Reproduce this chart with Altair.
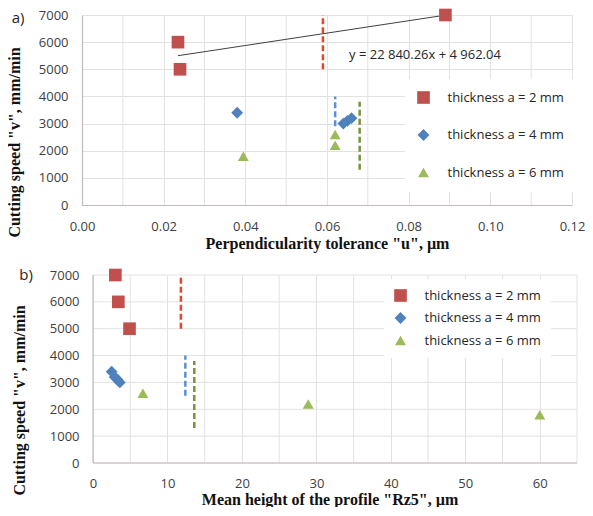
import altair as alt
import pandas as pd

# ---------------- data ----------------
series = ["thickness a = 2 mm", "thickness a = 4 mm", "thickness a = 6 mm"]

# panel a) perpendicularity tolerance "u" (µm) vs cutting speed "v" (mm/min)
a_u_2mm = [0.0235, 0.024, 0.089]
a_v_2mm = [6000, 5000, 7000]
a_u_4mm = [0.038, 0.066, 0.065, 0.064]
a_v_4mm = [3400, 3200, 3100, 3000]
a_u_6mm = [0.0395, 0.062, 0.062]
a_v_6mm = [1800, 2600, 2200]
trend_u = [0.0235, 0.089]
trend_v = [5500, 6995]
a_dash_u = [0.059, 0.062, 0.068]
a_dash_v1 = [5000, 2900, 1300]
a_dash_v2 = [7000, 4000, 3800]
equation = "y = 22 840.26x + 4 962.04"

# panel b) mean height of the profile "Rz5" (µm) vs cutting speed
b_rz_2mm = [3.0, 3.4, 4.9]
b_v_2mm = [7000, 6000, 5000]
b_rz_4mm = [2.5, 2.9, 3.3, 3.6]
b_v_4mm = [3400, 3200, 3100, 3000]
b_rz_6mm = [6.7, 28.9, 60.0]
b_v_6mm = [2600, 2200, 1800]
b_dash_rz = [11.8, 12.4, 13.6]
b_dash_v1 = [5000, 2500, 1300]
b_dash_v2 = [7000, 4000, 3800]

y_ticks = [0, 1000, 2000, 3000, 4000, 5000, 6000, 7000]
a_x_ticks = [0, 0.02, 0.04, 0.06, 0.08, 0.10, 0.12]
a_x_minor = [0.01, 0.03, 0.05, 0.07, 0.09, 0.11]
b_x_ticks = [0, 10, 20, 30, 40, 50, 60]
b_x_minor = [5, 15, 25, 35, 45, 55, 65]
b_x_range = [0, 65]          # drawn extent of panel b's axes
b_x_domain = [-1.48, 65]     # scale domain (leaves a little room left of the axis)

# ---------------- styles ----------------
colors = ["#c0504d", "#4f81bd", "#9bbb59"]
shapes = ["square", "diamond", "triangle-up"]
sizes = [160, 120, 170]
dash_colors = ["#f0412a", "#5b8fd6", "#77933c"]
LABEL_FONT = "Open Sans"
TITLE_FONT = "Liberation Serif"
Y_TITLE = 'Cutting speed "v", mm/min'
GRID = "#e2e2e2"
AXIS_LINE = "#c4baba"


def points_df(xs_list, vs_list):
    rows = []
    for s, xs, vs in zip(series, xs_list, vs_list):
        for x, v in zip(xs, vs):
            rows.append({"x": x, "v": v, "series": s})
    return pd.DataFrame(rows)


def panel(pts, dash_x, dash_v1, dash_v2, x_domain, x_ticks, x_minor, x_format, x_title,
          width, height, legend_x, legend_y, legend_pad, row_pad, label_off,
          title_x, title_y, x_label_pad, x_title_pad, y_label_pad, tag, tag_x, tag_y,
          extra=None, manual_axes=None):
    xscale = alt.Scale(domain=x_domain, nice=False, zero=False)
    yscale = alt.Scale(domain=[0, 7000], nice=False)
    manual = manual_axes is not None
    xaxis = alt.Axis(values=x_ticks, format=x_format, title=x_title,
                     labelPadding=x_label_pad, titlePadding=x_title_pad,
                     labelFlush=False, domain=not manual)
    yaxis = alt.Axis(values=y_ticks, format="d", title=Y_TITLE, labelPadding=y_label_pad,
                     titleAngle=270, titleBaseline="bottom", titleAlign="center",
                     titleX=title_x, titleY=title_y, grid=not manual, domain=not manual)

    def X(field):
        return alt.X(field, type="quantitative", scale=xscale, axis=xaxis)

    def Y(field):
        return alt.Y(field, type="quantitative", scale=yscale, axis=yaxis)

    legend = alt.Legend(orient="none", legendX=legend_x, legendY=legend_y, title=None,
                        fillColor="white", padding=legend_pad, rowPadding=row_pad,
                        labelFont=LABEL_FONT, labelFontSize=13, labelColor="#262626",
                        symbolSize=120, labelOffset=label_off, symbolStrokeWidth=0)

    layers = []
    minor_df = pd.DataFrame({"x": x_minor, "v": [0] * len(x_minor), "v2": [7000] * len(x_minor)})
    layers.append(alt.Chart(minor_df).mark_rule(color=GRID, strokeWidth=1).encode(
        x=X("x"), y=Y("v"), y2="v2"))
    if manual:
        x0, x1 = manual_axes
        grid_df = pd.DataFrame({"x": [x0] * len(y_ticks), "x2": [x1] * len(y_ticks), "v": y_ticks})
        layers.append(alt.Chart(grid_df).mark_rule(color=GRID, strokeWidth=1).encode(
            x=X("x"), x2="x2", y=Y("v")))
        layers.append(alt.Chart(pd.DataFrame({"x": [x0], "v": [0], "v2": [7000]})).mark_rule(
            color=AXIS_LINE, strokeWidth=1.2).encode(x=X("x"), y=Y("v"), y2="v2"))
        layers.append(alt.Chart(pd.DataFrame({"x": [x0], "x2": [x1], "v": [0]})).mark_rule(
            color=AXIS_LINE, strokeWidth=1.2).encode(x=X("x"), x2="x2", y=Y("v")))

    dash_df = pd.DataFrame({"x": dash_x, "v1": dash_v1, "v2": dash_v2, "col": dash_colors})
    layers.append(alt.Chart(dash_df).mark_rule(strokeDash=[6, 3], strokeWidth=2.5).encode(
        x=X("x"), y=Y("v1"), y2="v2", stroke=alt.Stroke("col:N", scale=None)))

    if extra is not None:
        layers += extra(X, Y)

    layers.append(alt.Chart(pts).mark_point(filled=True, opacity=1).encode(
        x=X("x"), y=Y("v"),
        color=alt.Color("series:N", scale=alt.Scale(domain=series, range=colors), legend=legend),
        shape=alt.Shape("series:N", scale=alt.Scale(domain=series, range=shapes), legend=legend),
        size=alt.Size("series:N", scale=alt.Scale(domain=series, range=sizes), legend=None),
    ))

    layers.append(alt.Chart(pd.DataFrame({"t": [tag]})).mark_text(
        font=LABEL_FONT, fontSize=15, align="center", baseline="middle", color="#262626"
    ).encode(text="t:N", x=alt.value(tag_x), y=alt.value(tag_y)))

    return alt.layer(*layers).properties(width=width, height=height)


def top_extra(X, Y):
    trend = alt.Chart(pd.DataFrame({"x": trend_u, "v": trend_v})).mark_line(
        color="#404040", strokeWidth=1).encode(x=X("x"), y=Y("v"))
    eq = alt.Chart(pd.DataFrame({"t": [equation]})).mark_text(
        font=LABEL_FONT, fontSize=13, align="left", baseline="middle", color="#262626"
    ).encode(text="t:N", x=alt.value(267), y=alt.value(40))
    return [trend, eq]


top = panel(points_df([a_u_2mm, a_u_4mm, a_u_6mm], [a_v_2mm, a_v_4mm, a_v_6mm]),
            a_dash_u, a_dash_v1, a_dash_v2, [0, 0.12], a_x_ticks, a_x_minor, ".2f",
            'Perpendicularity  tolerance "u", \u00b5m',
            490, 190, 323, 64, 12, 23.5, 17.5, -60, 127, 15, 2, 14, "a)", -64, 3,
            extra=top_extra)

bottom = panel(points_df([b_rz_2mm, b_rz_4mm, b_rz_6mm], [b_v_2mm, b_v_4mm, b_v_6mm]),
               b_dash_rz, b_dash_v1, b_dash_v2, b_x_domain, b_x_ticks, b_x_minor, "d",
               'Mean height of the profile "Rz5", \u00b5m',
               495, 188, 302, 4, 10, 8.5, 17.5, -55, 125, 14, 1, 3, "b)", -56, 0,
               manual_axes=b_x_range)

chart = alt.vconcat(top, bottom, spacing=17).resolve_scale(
    color="independent", shape="independent", size="independent"
).resolve_legend(color="independent", shape="independent").properties(
    padding={"left": -2, "top": 0, "right": 0, "bottom": 0}
).configure_view(stroke=None).configure_axis(
    labelFont=LABEL_FONT, labelFontSize=13, labelColor="#404040",
    titleFont=TITLE_FONT, titleFontSize=16, titleFontWeight="bold", titleColor="#111111",
    tickSize=0, gridColor=GRID, gridWidth=1, domainColor=AXIS_LINE, domainWidth=1.2,
)

chart.save("out.html", embed_options={"renderer": "svg", "actions": False})
